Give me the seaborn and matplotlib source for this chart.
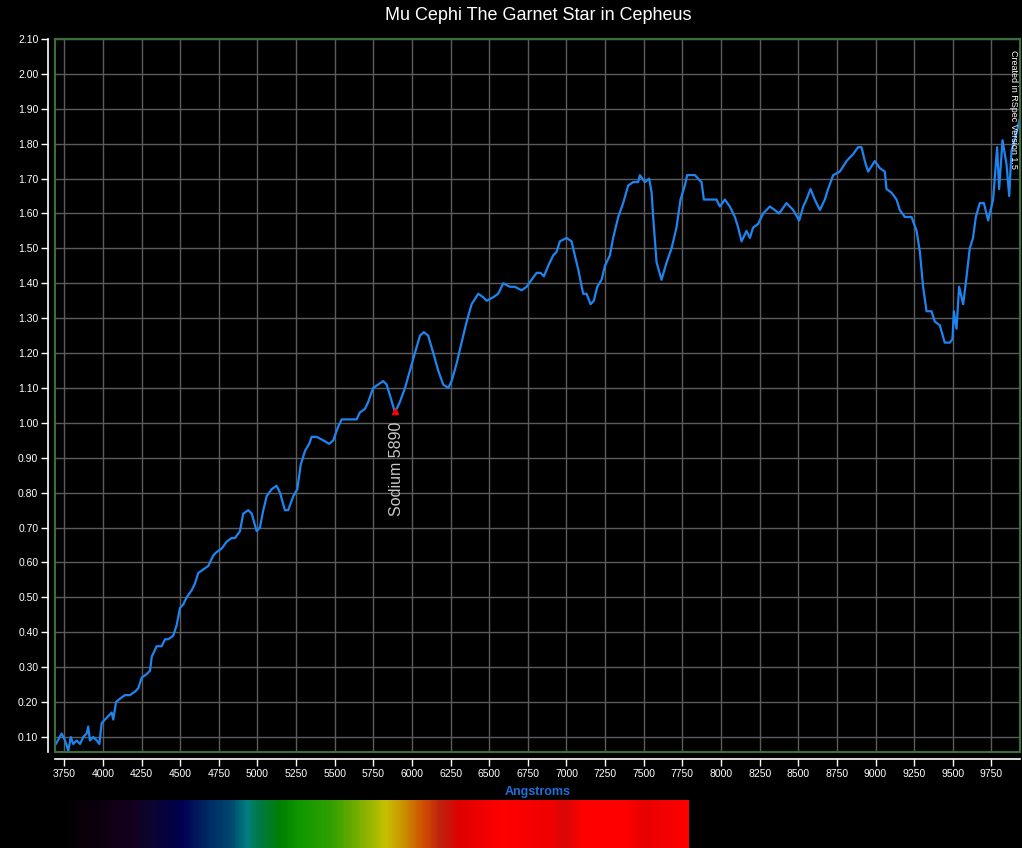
import numpy as np
import pandas as pd
import matplotlib
matplotlib.use("Agg")
import matplotlib.pyplot as plt
from matplotlib.colors import LinearSegmentedColormap
from matplotlib.patches import Rectangle
import seaborn as sns

# ==============================
# DATA
# ==============================
wavelength = [
    3696, 3733, 3755, 3776, 3792, 3808, 3830, 3852, 3873, 3895, 3905, 3916, 3938, 3960, 3977,
    3992, 4014, 4035, 4057, 4067, 4085, 4111, 4143, 4175, 4208, 4229, 4251, 4283, 4305, 4316,
    4348, 4380, 4402, 4423, 4455, 4477, 4499, 4520, 4542, 4574, 4596, 4617, 4650, 4682, 4714,
    4736, 4769, 4801, 4833, 4855, 4887, 4908, 4941, 4963, 4995, 5016, 5038, 5060, 5092, 5124,
    5146, 5178, 5199, 5232, 5258, 5280, 5308, 5335, 5351, 5383, 5426, 5465, 5491, 5523, 5545,
    5577, 5610, 5642, 5663, 5696, 5717, 5749, 5782, 5814, 5836, 5857, 5890, 5922, 5955, 5987,
    6019, 6052, 6077, 6105, 6138, 6170, 6202, 6235, 6257, 6289, 6321, 6354, 6386, 6429, 6461,
    6483, 6526, 6558, 6591, 6634, 6666, 6710, 6742, 6774, 6807, 6832, 6854, 6882, 6914, 6936,
    6957, 7001, 7033, 7054, 7076, 7108, 7130, 7156, 7177, 7199, 7227, 7249, 7281, 7302, 7335,
    7367, 7399, 7432, 7464, 7475, 7507, 7535, 7551, 7561, 7583, 7615, 7648, 7680, 7712, 7738,
    7766, 7781, 7809, 7831, 7852, 7874, 7889, 7917, 7949, 7971, 7993, 8025, 8057, 8090, 8111,
    8133, 8165, 8187, 8208, 8240, 8273, 8316, 8348, 8376, 8424, 8467, 8506, 8532, 8553, 8579,
    8607, 8640, 8672, 8693, 8726, 8769, 8812, 8855, 8887, 8909, 8931, 8952, 8995, 9028, 9060,
    9071, 9103, 9136, 9157, 9190, 9233, 9266, 9287, 9308, 9330, 9362, 9384, 9416, 9448, 9481,
    9498, 9507, 9524, 9541, 9567, 9584, 9610, 9631, 9649, 9675, 9701, 9729, 9761, 9787, 9800,
    9822, 9848, 9865, 9880, 9912, 9933,
]
intensity = [
    0.08, 0.11, 0.09, 0.06, 0.10, 0.08, 0.09, 0.08, 0.10, 0.11, 0.13, 0.09, 0.10, 0.09, 0.08,
    0.14, 0.15, 0.16, 0.17, 0.15, 0.20, 0.21, 0.22, 0.22, 0.23, 0.24, 0.27, 0.28, 0.29, 0.33,
    0.36, 0.36, 0.38, 0.38, 0.39, 0.42, 0.47, 0.48, 0.50, 0.52, 0.54, 0.57, 0.58, 0.59, 0.62,
    0.63, 0.64, 0.66, 0.67, 0.67, 0.69, 0.74, 0.75, 0.74, 0.69, 0.70, 0.75, 0.79, 0.81, 0.82,
    0.80, 0.75, 0.75, 0.79, 0.81, 0.88, 0.92, 0.94, 0.96, 0.96, 0.95, 0.94, 0.95, 0.99, 1.01,
    1.01, 1.01, 1.01, 1.03, 1.04, 1.06, 1.10, 1.11, 1.12, 1.11, 1.08, 1.03, 1.06, 1.10, 1.15,
    1.20, 1.25, 1.26, 1.25, 1.20, 1.15, 1.11, 1.10, 1.12, 1.17, 1.23, 1.29, 1.34, 1.37, 1.36,
    1.35, 1.36, 1.37, 1.40, 1.39, 1.39, 1.38, 1.39, 1.41, 1.43, 1.43, 1.42, 1.45, 1.48, 1.49,
    1.52, 1.53, 1.52, 1.48, 1.44, 1.37, 1.37, 1.34, 1.35, 1.39, 1.41, 1.45, 1.48, 1.53, 1.59,
    1.63, 1.68, 1.69, 1.69, 1.71, 1.69, 1.70, 1.66, 1.59, 1.46, 1.41, 1.46, 1.50, 1.56, 1.64,
    1.68, 1.71, 1.71, 1.71, 1.70, 1.69, 1.64, 1.64, 1.64, 1.64, 1.62, 1.64, 1.62, 1.59, 1.56,
    1.52, 1.55, 1.53, 1.56, 1.57, 1.60, 1.62, 1.61, 1.60, 1.63, 1.61, 1.58, 1.62, 1.64, 1.67,
    1.64, 1.61, 1.64, 1.67, 1.71, 1.72, 1.75, 1.77, 1.79, 1.79, 1.75, 1.72, 1.75, 1.73, 1.72,
    1.67, 1.66, 1.64, 1.61, 1.59, 1.59, 1.55, 1.49, 1.39, 1.32, 1.32, 1.29, 1.28, 1.23, 1.23,
    1.24, 1.32, 1.27, 1.39, 1.34, 1.40, 1.50, 1.53, 1.59, 1.63, 1.63, 1.58, 1.64, 1.79, 1.67,
    1.81, 1.74, 1.65, 1.78, 1.83, 1.87,
]

line_label = "Sodium 5890"
line_wl = 5890
line_val = 1.035

x_ticks = list(range(3750, 10000, 250))
y_ticks = [round(0.1 * i, 2) for i in range(1, 22)]

# colour stops of the rainbow strip under the chart (position 0..1, colour)
strip_pos = [0.0, 0.05, 0.10, 0.13, 0.18, 0.21, 0.26, 0.285, 0.30, 0.34, 0.37, 0.42,
             0.45, 0.49, 0.51, 0.54, 0.57, 0.60, 0.63, 0.70, 0.78, 0.80, 0.83, 0.90, 0.93, 1.0]
strip_col = ["#050005", "#0d0010", "#150020", "#0a0530", "#000050", "#002060",
             "#004a70", "#008080", "#007850", "#008000", "#109800", "#30a000",
             "#60a800", "#a0b800", "#c8c000", "#c89000", "#d05000", "#c02010",
             "#e00000", "#ff0000", "#f00000", "#d80808", "#ff0000", "#ff0000",
             "#e80000", "#ff0000"]

df = pd.DataFrame({"Angstroms": wavelength, "Intensity": intensity})

# ==============================
# STYLE
# ==============================
sns.set_style("dark", {"axes.facecolor": "black", "figure.facecolor": "black",
                       "axes.grid": True, "grid.color": "#5c5c5c",
                       "xtick.bottom": True, "ytick.left": True})
plt.rcParams['font.family'] = ['Liberation Sans', 'DejaVu Sans']

fig = plt.figure(figsize=(10.22, 8.48), dpi=100)
fig.patch.set_facecolor("black")
ax = fig.add_axes([55 / 1022, 1 - 752 / 848, 965 / 1022, 713 / 848])
ax.set_facecolor("black")

sns.lineplot(data=df, x="Angstroms", y="Intensity", ax=ax, color="#1e84f0",
             linewidth=1.6, estimator=None, sort=False)

ax.plot([line_wl], [line_val], marker="^", color="red", markersize=5, linestyle="none")
ax.text(line_wl + 10, line_val - 0.03, line_label, rotation=90, ha="center", va="top",
        color="#c8c8c8", fontsize=11.5)

ax.set_xlim(3690, 9935)
ax.set_ylim(0.057, 2.10)
ax.set_xticks(x_ticks)
ax.set_yticks(y_ticks)
ax.set_yticklabels([f"{v:.2f}" for v in y_ticks])
ax.grid(True, color="#5c5c5c", linewidth=1)
ax.tick_params(bottom=True, left=True, colors="white", labelsize=7.5, length=5,
               width=1, direction="out", pad=2)

for side in ["bottom", "left"]:
    ax.spines[side].set_visible(True)
    ax.spines[side].set_color("white")
    ax.spines[side].set_linewidth(1.2)
    ax.spines[side].set_position(("outward", 5))
for side in ["top", "right"]:
    ax.spines[side].set_visible(True)
    ax.spines[side].set_color("#3c6e3c")
    ax.spines[side].set_linewidth(1.5)
ax.add_patch(Rectangle((0, 0), 1, 1, transform=ax.transAxes, fill=False,
                       edgecolor="#3c6e3c", linewidth=1.5, clip_on=False, zorder=5))

ax.set_xlabel("Angstroms", color="#1f6fd8", fontsize=9, fontweight="bold", labelpad=5)
ax.set_ylabel("")
fig.text(538 / 1022, 1 - 15 / 848, "Mu Cephi The Garnet Star in Cepheus", color="white",
         fontsize=13, ha="center", va="center")

ax.text(0.993, 0.985, "Created in RSpec Version 1.5", transform=ax.transAxes,
        rotation=-90, ha="center", va="top", color="white", fontsize=6.5)

# rainbow strip
cmap = LinearSegmentedColormap.from_list("strip", list(zip(strip_pos, strip_col)))
sax = fig.add_axes([70 / 1022, 0, 619 / 1022, 48 / 848])
sax.imshow(np.linspace(0, 1, 600).reshape(1, -1), aspect="auto", cmap=cmap)
sax.set_axis_off()

fig.savefig("out.png", dpi=100, facecolor="black")
